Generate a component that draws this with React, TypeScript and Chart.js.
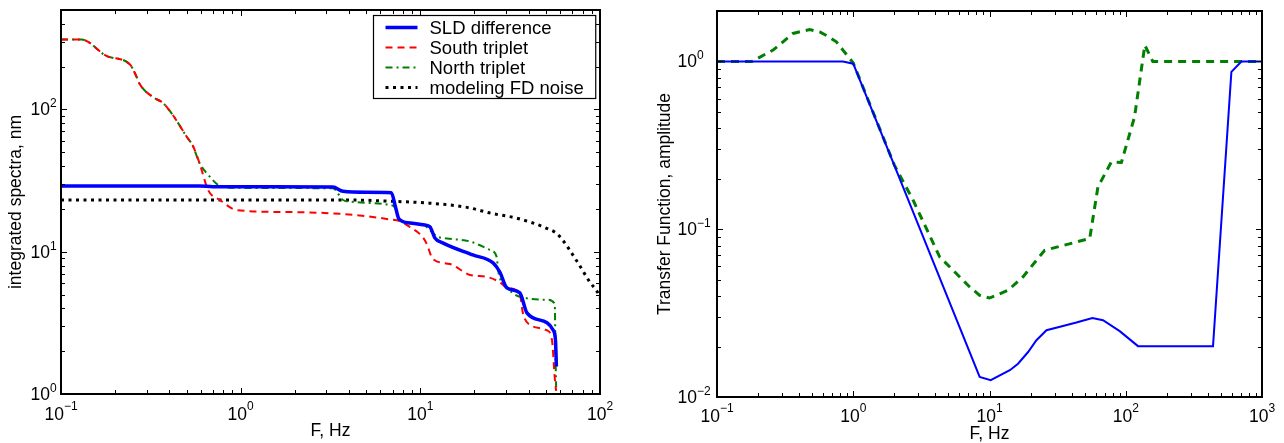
import React, { useEffect, useRef } from "react";
import { Chart, registerables } from "chart.js";

Chart.register(...registerables);

const FONT = '"Liberation Sans", Arial, Helvetica, sans-serif';

// ---------- Left panel: integrated spectra ----------
const sldFreq = [0.1, 0.3, 0.59, 0.7, 1.5, 3.26, 3.71, 5.0, 6.9, 7.25, 7.6, 8.75, 10.6, 11.3, 12.05, 13.4, 19.6, 25.4, 27.7, 30.3, 35.8, 39.2, 50.7, 54.7, 56.5, 57.2];
const sldValues = [29.0, 29.0, 29.0, 28.6, 28.6, 28.5, 26.6, 26.2, 26.0, 21.0, 17.0, 15.9, 15.4, 15.0, 12.5, 11.5, 9.5, 8.35, 7.2, 5.57, 5.14, 3.72, 3.17, 2.83, 2.4, 1.56];

const southFreq = [0.1, 0.13, 0.18, 0.242, 0.261, 0.275, 0.325, 0.37, 0.42, 0.502, 0.54, 0.59, 0.66, 0.767, 0.955, 1.88, 3.71, 5.73, 6.5, 7.8, 8.75, 10.3, 10.8, 11.75, 14.6, 18.9, 23.5, 27.7, 30.3, 35.8, 37.2, 40.7, 50.7, 54.0, 56.1, 57.0];
const southValues = [310, 310, 237, 207, 174, 150, 122, 111, 91, 64, 56, 42, 27, 23.1, 19.6, 19.0, 18.4, 17.4, 17.0, 16.3, 14.9, 12.7, 11.5, 8.9, 8.2, 6.87, 6.65, 6.1, 5.6, 5.0, 3.72, 3.06, 2.8, 2.41, 1.26, 1.05];

const northFreq = [0.1, 0.13, 0.18, 0.242, 0.261, 0.275, 0.325, 0.37, 0.42, 0.502, 0.54, 0.59, 0.675, 0.75, 0.872, 2.0, 3.26, 3.71, 4.06, 6.78, 7.22, 7.6, 8.75, 10.6, 12.4, 14.1, 18.9, 24.4, 26.6, 27.1, 30.3, 35.8, 50.7, 56.0, 56.5, 57.0];
const northValues = [310, 310, 237, 207, 174, 150, 122, 111, 91, 64, 56, 42, 33.6, 29.4, 28.2, 28.0, 27.9, 23.1, 22.5, 21.3, 20.5, 17.0, 15.9, 15.2, 12.8, 12.4, 11.8, 10.3, 9.2, 7.4, 5.66, 4.82, 4.6, 4.3, 2.0, 1.12];

const noiseFreq = [0.1, 1, 4, 7, 10.9, 18.2, 24.9, 34.4, 50.5, 58.3, 74.3, 87.9, 97.3, 100];
const noiseValues = [23.1, 23.1, 23.1, 22.6, 22.0, 20.5, 18.6, 17.2, 14.6, 13.2, 8.6, 6.1, 5.14, 4.74];

// ---------- Right panel: transfer function ----------
const tfBlueFreq = [0.1, 0.84, 1.0, 8.47, 10.2, 14.1, 16.2, 19.2, 22.1, 26.2, 34.6, 43.4, 56.9, 68.1, 90.3, 123, 437, 596, 706, 1000];
const tfBlueValues = [1, 1, 0.97, 0.01316, 0.01259, 0.01445, 0.0158, 0.01854, 0.0218, 0.025, 0.0265, 0.0278, 0.0296, 0.0287, 0.0247, 0.0201, 0.0201, 0.867, 1, 1];

const tfGreenFreq = [0.1, 0.18, 0.258, 0.305, 0.361, 0.479, 0.568, 0.635, 0.752, 0.84, 1.0, 2.0, 2.75, 4.31, 7.16, 8.47, 10, 13.7, 17.6, 25.4, 54.4, 62.5, 78.5, 92.9, 116, 138, 158, 1000];
const tfGreenValues = [1, 1, 1.17, 1.31, 1.47, 1.55, 1.5, 1.43, 1.31, 1.17, 0.98, 0.242, 0.149, 0.0684, 0.0453, 0.0404, 0.0389, 0.0433, 0.052, 0.075, 0.088, 0.179, 0.252, 0.25, 0.467, 1.25, 1.0, 1];

// Tick labels (exponents of ten) and axis texts
const leftXExponents = [-1, 0, 1, 2];
const leftYExponents = [0, 1, 2];
const rightXExponents = [-1, 0, 1, 2, 3];
const rightYExponents = [-2, -1, 0];
const leftLegendLabels = ["SLD difference", "South triplet", "North triplet", "modeling FD noise"];

function pts(xs: number[], ys: number[]) {
  return xs.map((x, i) => ({ x, y: ys[i] }));
}

function logTicks(min: number, max: number) {
  const out: { v: number; major: boolean }[] = [];
  for (let e = Math.floor(Math.log10(min)) ; e <= Math.ceil(Math.log10(max)); e++) {
    for (let m = 1; m <= 9; m++) {
      const v = m * Math.pow(10, e);
      if (v >= min * 0.999 && v <= max * 1.001) out.push({ v, major: m === 1 });
    }
  }
  return out;
}

function expText(e: number) {
  return e < 0 ? "\u2212" + Math.abs(e) : String(e);
}

const matlabAxes = {
  id: "matlabAxes",
  afterDraw(chart: any, _args: any, opts: any) {
    const { ctx, chartArea: a, scales } = chart;
    const xs = scales.x;
    const ys = scales.y;
    ctx.save();
    ctx.setLineDash([]);
    ctx.strokeStyle = "#000";
    ctx.lineWidth = 1;
    // ticks, inward on all four sides
    for (const t of logTicks(xs.min, xs.max)) {
      const p = Math.round(xs.getPixelForValue(t.v)) + 0.5;
      const len = t.major ? 6 : 4;
      ctx.beginPath();
      ctx.moveTo(p, a.bottom);
      ctx.lineTo(p, a.bottom - len);
      ctx.moveTo(p, a.top);
      ctx.lineTo(p, a.top + len);
      ctx.stroke();
    }
    for (const t of logTicks(ys.min, ys.max)) {
      const p = Math.round(ys.getPixelForValue(t.v)) + 0.5;
      const len = t.major ? 6 : 4;
      ctx.beginPath();
      ctx.moveTo(a.left, p);
      ctx.lineTo(a.left + len, p);
      ctx.moveTo(a.right, p);
      ctx.lineTo(a.right - len, p);
      ctx.stroke();
    }
    // frame
    ctx.lineWidth = 2;
    ctx.strokeRect(a.left, a.top, a.right - a.left, a.bottom - a.top);

    // tick labels 10^k
    const baseFont = `17.5px ${FONT}`;
    const expFont = `12px ${FONT}`;
    ctx.fillStyle = "#000";
    ctx.textBaseline = "alphabetic";
    for (const e of opts.xExp as number[]) {
      const px = xs.getPixelForValue(Math.pow(10, e));
      ctx.font = baseFont;
      const wb = ctx.measureText("10").width;
      ctx.font = expFont;
      const we = ctx.measureText(expText(e)).width;
      const start = px - (wb + we) / 2;
      const yb = a.bottom + opts.xLabelDy;
      ctx.font = baseFont;
      ctx.textAlign = "left";
      ctx.fillText("10", start, yb);
      ctx.font = expFont;
      ctx.fillText(expText(e), start + wb, yb - 10);
    }
    for (const e of opts.yExp as number[]) {
      const py = ys.getPixelForValue(Math.pow(10, e));
      const xr = a.left - opts.yBaseGap;
      ctx.font = baseFont;
      ctx.textAlign = "right";
      ctx.fillText("10", xr, py + 6);
      ctx.font = expFont;
      ctx.textAlign = "left";
      ctx.fillText(expText(e), xr, py - 2);
    }

    // legend
    if (opts.legend) {
      const lg = opts.legend;
      const dss = chart.data.datasets;
      ctx.font = `18.5px ${FONT}`;
      let maxW = 0;
      for (const ds of dss) maxW = Math.max(maxW, ctx.measureText(ds.label).width);
      const w = 12 + 32 + 12 + maxW + 12;
      const h = 12 + 20 * (dss.length - 1) + 11;
      const x0 = Math.round(lg.right - w) + 0.5;
      const y0 = lg.top + 0.5;
      ctx.fillStyle = "#fff";
      ctx.fillRect(x0, y0, w, h);
      ctx.strokeStyle = "#000";
      ctx.lineWidth = 1.2;
      ctx.setLineDash([]);
      ctx.strokeRect(x0, y0, w, h);
      dss.forEach((ds: any, i: number) => {
        const y = y0 + 12 + i * 20;
        ctx.save();
        ctx.strokeStyle = ds.borderColor;
        ctx.lineWidth = ds.borderWidth;
        ctx.setLineDash(ds.borderDash || []);
        ctx.beginPath();
        ctx.moveTo(x0 + 12, y);
        ctx.lineTo(x0 + 44, y);
        ctx.stroke();
        ctx.restore();
        ctx.fillStyle = "#000";
        ctx.textAlign = "left";
        ctx.textBaseline = "middle";
        ctx.fillText(ds.label, x0 + 56, y + 1);
      });
    }
    ctx.restore();
  },
};

function axisTitle(text: string, pad: any) {
  return {
    display: true,
    text,
    color: "#000",
    font: { family: FONT, size: 17.5, lineHeight: 1 },
    padding: pad,
  };
}

function leftConfig(): any {
  return {
    type: "line",
    data: {
      datasets: [
        {
          label: leftLegendLabels[0],
          data: pts(sldFreq, sldValues),
          borderColor: "#0000ff",
          borderWidth: 3.5,
          pointRadius: 0,
          cubicInterpolationMode: "monotone",
          borderJoinStyle: "round",
        },
        {
          label: leftLegendLabels[1],
          data: pts(southFreq, southValues),
          borderColor: "#ff0000",
          borderWidth: 2,
          borderDash: [7, 5],
          pointRadius: 0,
          cubicInterpolationMode: "monotone",
        },
        {
          label: leftLegendLabels[2],
          data: pts(northFreq, northValues),
          borderColor: "#008000",
          borderWidth: 2,
          borderDash: [7, 4, 2, 4],
          pointRadius: 0,
          cubicInterpolationMode: "monotone",
        },
        {
          label: leftLegendLabels[3],
          data: pts(noiseFreq, noiseValues),
          borderColor: "#000000",
          borderWidth: 3,
          borderDash: [3, 4.5],
          pointRadius: 0,
          cubicInterpolationMode: "monotone",
        },
      ],
    },
    options: {
      responsive: false,
      animation: false,
      layout: { padding: { top: 10, right: 40, left: 0, bottom: 0 } },
      scales: {
        x: {
          type: "logarithmic",
          min: 0.1,
          max: 100,
          grid: { display: false },
          border: { display: false },
          ticks: { display: false },
          title: axisTitle("F, Hz", { top: 0, bottom: 3 }),
          afterFit(s: any) {
            s.height = 49;
          },
        },
        y: {
          type: "logarithmic",
          min: 1,
          max: 500,
          grid: { display: false },
          border: { display: false },
          ticks: { display: false },
          title: axisTitle("integrated spectra, nm", { top: 7, bottom: 0 }),
          afterFit(s: any) {
            s.width = 61;
          },
        },
      },
      plugins: {
        legend: { display: false },
        tooltip: { enabled: false },
        matlabAxes: {
          xExp: leftXExponents,
          yExp: leftYExponents,
          xLabelDy: 26,
          yBaseGap: 11,
          legend: { right: 595, top: 15 },
        },
      },
    },
    plugins: [matlabAxes],
  };
}

function rightConfig(): any {
  return {
    type: "line",
    data: {
      datasets: [
        {
          label: "SLD transfer function",
          data: pts(tfBlueFreq, tfBlueValues),
          borderColor: "#0000ff",
          borderWidth: 2,
          pointRadius: 0,
          tension: 0,
        },
        {
          label: "Triplet transfer function",
          data: pts(tfGreenFreq, tfGreenValues),
          borderColor: "#008000",
          borderWidth: 3,
          borderDash: [8, 6],
          pointRadius: 0,
          tension: 0,
        },
      ],
    },
    options: {
      responsive: false,
      animation: false,
      layout: { padding: { top: 11, right: 22, left: 0, bottom: 0 } },
      scales: {
        x: {
          type: "logarithmic",
          min: 0.1,
          max: 1000,
          grid: { display: false },
          border: { display: false },
          ticks: { display: false },
          title: axisTitle("F, Hz", { top: 0, bottom: 0.5 }),
          afterFit(s: any) {
            s.height = 46;
          },
        },
        y: {
          type: "logarithmic",
          min: 0.01,
          max: 2,
          grid: { display: false },
          border: { display: false },
          ticks: { display: false },
          title: axisTitle("Transfer Function, amplitude", { top: 16.5, bottom: 0 }),
          afterFit(s: any) {
            s.width = 77;
          },
        },
      },
      plugins: {
        legend: { display: false },
        tooltip: { enabled: false },
        matlabAxes: {
          xExp: rightXExponents,
          yExp: rightYExponents,
          xLabelDy: 25,
          yBaseGap: 20,
        },
      },
    },
    plugins: [matlabAxes],
  };
}

export default function App() {
  const leftRef = useRef<HTMLCanvasElement>(null);
  const rightRef = useRef<HTMLCanvasElement>(null);
  useEffect(() => {
    const c1 = new Chart(leftRef.current as HTMLCanvasElement, leftConfig());
    const c2 = new Chart(rightRef.current as HTMLCanvasElement, rightConfig());
    return () => {
      c1.destroy();
      c2.destroy();
    };
  }, []);
  return (
    <div style={{ position: "absolute", left: 0, top: 0, width: 1284, height: 443, background: "#fff" }}>
      <canvas ref={leftRef} width={640} height={443} style={{ position: "absolute", left: 0, top: 0 }} />
      <canvas ref={rightRef} width={644} height={443} style={{ position: "absolute", left: 640, top: 0 }} />
    </div>
  );
}
